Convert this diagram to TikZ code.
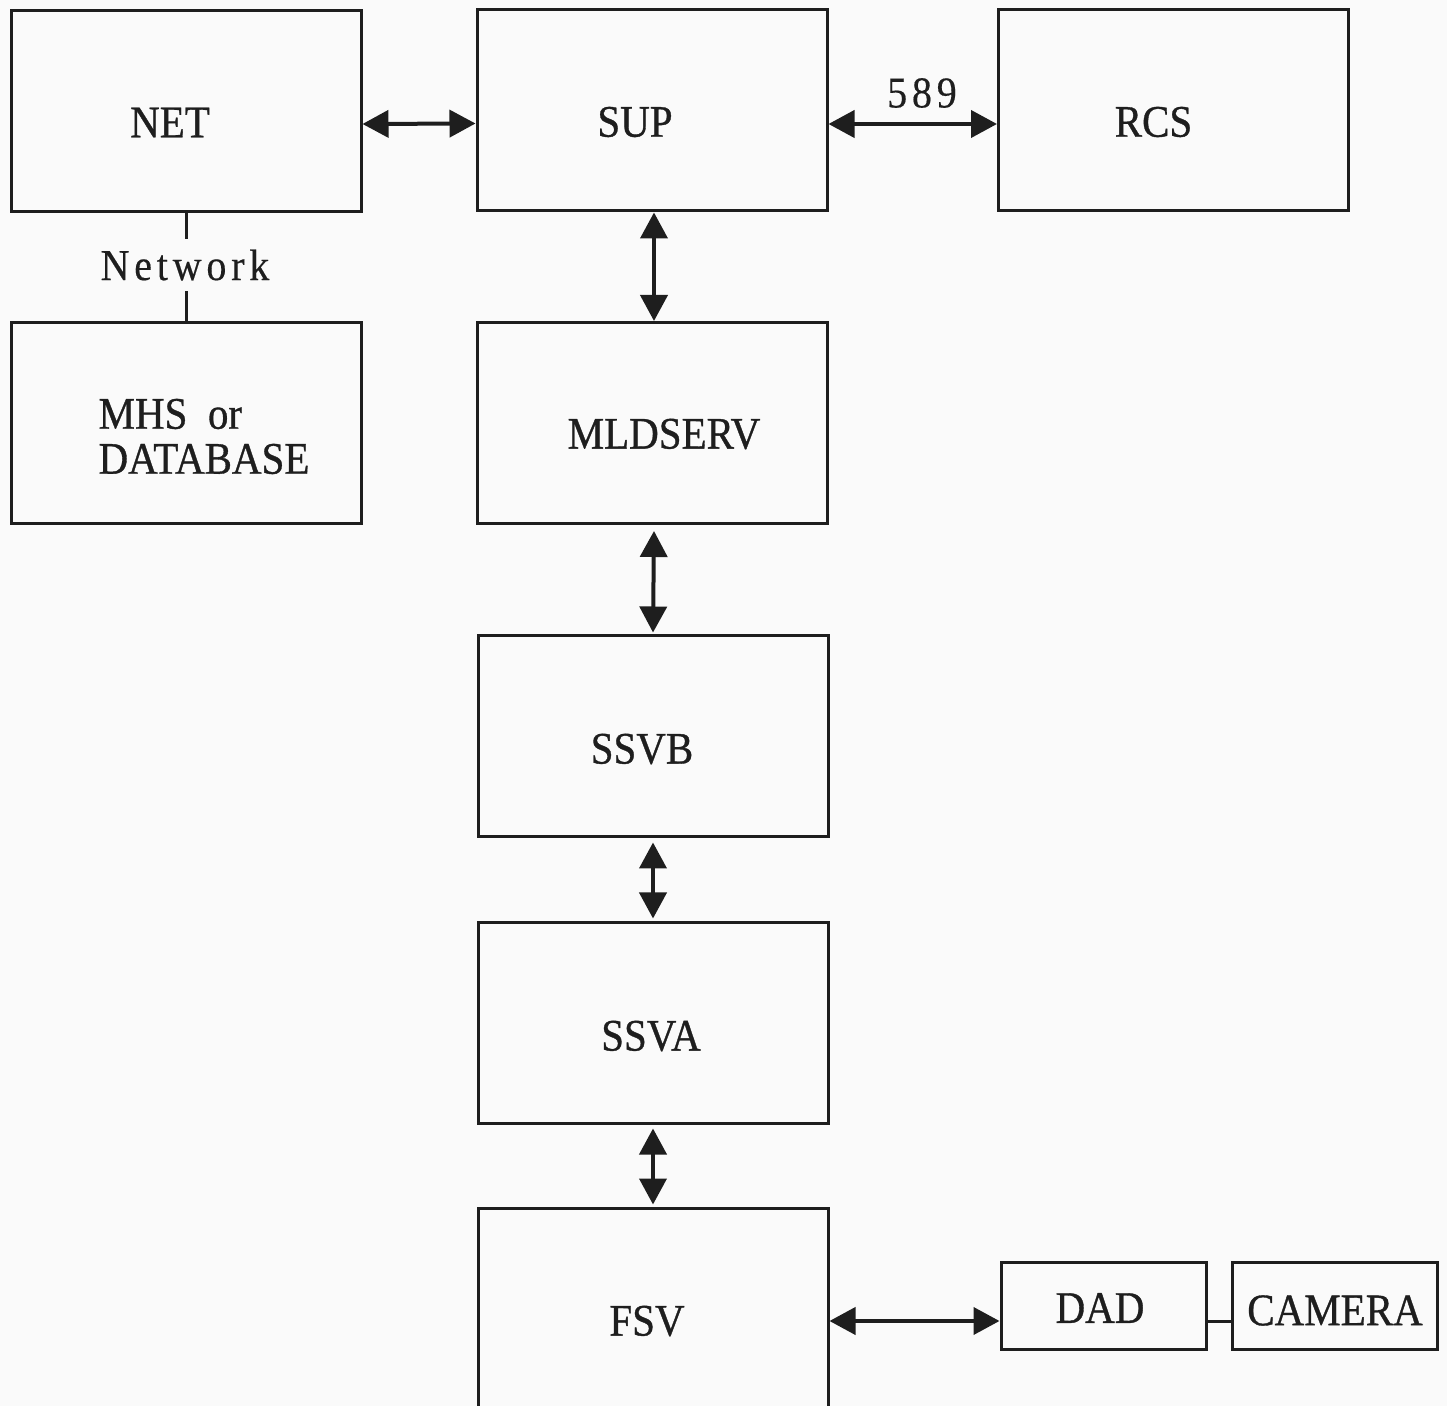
\documentclass[tikz,border=0pt]{standalone}
\usepackage{fontspec}
\setmainfont[FakeBold=0.8]{Liberation Serif}
\newfontfamily\netfont[LetterSpace=12,FakeBold=0.4]{Liberation Serif}
\usetikzlibrary{arrows.meta}
\newcommand\tx[1]{\scalebox{1}[1.1]{#1}}
\definecolor{ink}{HTML}{1E1E1E}
\definecolor{paper}{HTML}{FAFAFA}
\begin{document}
\begin{tikzpicture}[x=0.5pt,y=-0.5pt,
  box/.style={draw=ink, line width=1.5pt, inner sep=0pt},
  big/.style={box, minimum width=175pt, minimum height=100.5pt},
  small/.style={box, minimum width=102.5pt, minimum height=43.5pt},
  lbl/.style={font=\fontsize{20.5}{22.5}\selectfont, text=ink},
  conn/.style={draw=ink, line width=2pt, {Triangle[length=13pt,width=13.5pt]}-{Triangle[length=13pt,width=13.5pt]}},
  plain/.style={draw=ink, line width=1.5pt}]
\clip (0,0) rectangle (1447,1406);
\fill[paper] (0,0) rectangle (1447,1406);

\node[big, label={[lbl,xshift=-8pt,yshift=-5.75pt]center:\tx{NET}}] (NET) at (186,111) {};
\node[big, label={[lbl,xshift=-8.5pt,yshift=-5.75pt]center:\tx{SUP}}] (SUP) at (652,110.5) {};
\node[big, label={[lbl,xshift=-10pt,yshift=-5.75pt]center:\tx{RCS}}] (RCS) at (1173.5,110.5) {};
\node[big, label={[lbl,align=left,xshift=9pt,yshift=-6.5pt]center:{\tx{MHS\hspace{0.5em}or}\\\tx{DATABASE}}}] (MHS) at (186,423.5) {};
\node[big, label={[lbl,xshift=6pt,yshift=-5.5pt]center:\tx{MLDSERV}}] (MLD) at (652,423) {};
\node[big, label={[lbl,xshift=-5.5pt,yshift=-6.25pt]center:\tx{SSVB}}] (SSVB) at (653,736.5) {};
\node[big, label={[lbl,xshift=-1pt,yshift=-6.75pt]center:\tx{SSVA}}] (SSVA) at (653,1022.5) {};
\node[big, minimum height=113pt, label={[lbl,xshift=-3pt]center:\tx{FSV}}] (FSV) at (653,1321) {};
\node[small, label={[lbl,xshift=-1.75pt,yshift=-1.25pt]center:\tx{DAD}}] (DAD) at (1103.5,1305.5) {};
\node[small, label={[lbl,yshift=-2.5pt]center:\tx{CAMERA}}] (CAM) at (1335,1305.5) {};

\node[lbl, font=\netfont\fontsize{20}{25}\selectfont, inner sep=0pt, minimum height=26pt] (NW) at (185,265) {\tx{Network}};
\node[lbl, font=\netfont\fontsize{20}{25}\selectfont, inner sep=0pt] (L589) at (922,93) {\tx{589}};

\draw[plain] (NET.south) -- (NET.south |- NW.north);
\draw[plain] (MHS.north |- NW.south) -- (MHS.north);

\draw[conn] ([yshift=-6.5pt]NET.east) -- ([yshift=-6.5pt]SUP.west);
\draw[conn] ([yshift=-6.75pt]SUP.east) -- ([yshift=-6.75pt]RCS.west);
\draw[conn] ([xshift=1pt]SUP.south) -- ([xshift=1pt]MLD.north);
\draw[conn] ([xshift=1pt,yshift=-3pt]MLD.south) -- ([yshift=1pt]SSVB.north);
\draw[conn] ([yshift=-2pt]SSVB.south) -- ([yshift=1pt]SSVA.north);
\draw[conn] ([yshift=-2pt]SSVA.south) -- ([yshift=1pt]FSV.north);
\draw[conn] (FSV.east) -- (DAD.west |- FSV.east);
\draw[plain] (DAD.east |- FSV.east) -- (CAM.west |- FSV.east);
\end{tikzpicture}
\end{document}
